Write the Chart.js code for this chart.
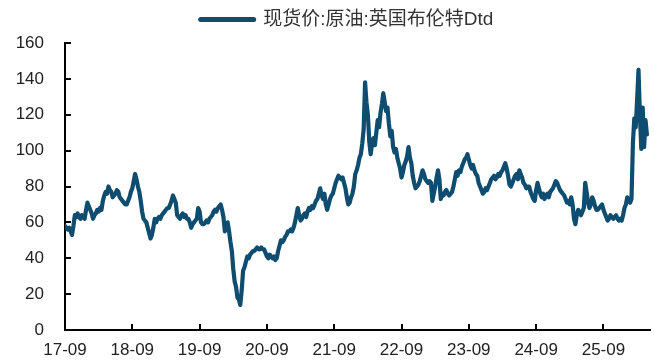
<!DOCTYPE html>
<html>
<head>
<meta charset="utf-8">
<script src="https://cdn.jsdelivr.net/npm/chart.js@4.4.1/dist/chart.umd.min.js"></script>
<style>
  html, body { margin: 0; padding: 0; background: #fff; }
  #wrap { width: 654px; height: 362px; }
</style>
</head>
<body>
<div id="wrap"><canvas id="c" width="654" height="362"></canvas></div>
<script>
// Dated Brent spot price, USD/bbl, four readings per month starting Sep 2017
const brent2017 = [58,57,56,57, 55,53,58,64, 63,65,63,62, 64,63,62,67];
const brent2018 = [71,69,67,65, 62,64,65,67, 66,68,67,72, 75,77,76,80,
                   78,77,74,75, 76,78,77,74, 73,72,71,70, 70,72,74,77,
                   79,83,87,84, 80,77,72,66, 62,61,60,57, 54,51,53,57];
const brent2019 = [62,60,62,63, 62,64,65,66, 67,68,68,70, 72,75,73,71,
                   64,63,62,64, 65,63,64,62, 62,60,57,59, 60,61,62,68,
                   66,60,59,59, 60,61,60,62, 63,64,66,67, 66,68,69,70];
const brent2020 = [67,63,55,57, 60,55,49,44, 34,27,24,18, 17,14,22,33,
                   35,38,41,40, 42,43,44,44, 45,46,45,45, 46,45,45,43,
                   41,40,42,41, 40,41,39,40, 44,47,50,49, 50,52,53,55];
const brent2021 = [55,56,55,57, 60,64,68,64, 61,62,64,65, 63,66,68,67,
                   69,68,70,72, 73,76,79,75, 73,76,70,67, 70,73,75,76,
                   79,82,84,86, 85,84,85,82, 79,74,70,71, 74,76,80,87];
const brent2022 = [89,92,96,98, 104,112,138,127, 120,105,98,104, 107,103,110,117,
                   113,121,126,132, 127,122,124,115, 108,111,102,99, 101,96,93,90,
                   85,88,92,94, 97,102,96,93, 86,82,79,80, 81,83,86,89];
const brent2023 = [87,84,83,82, 83,82,72,76, 80,85,89,84, 73,76,75,77,
                   78,76,75,76, 77,80,84,88, 86,89,88,91, 93,95,96,98,
                   95,92,90,92, 89,87,86,82, 80,78,76,77, 79,78,80,82];
const brent2024 = [84,85,86,84, 85,87,86,88, 89,91,93,90, 86,81,80,82,
                   84,86,87,84, 89,87,85,82, 81,79,80,80, 77,75,73,72,
                   78,82,79,76, 74,76,73,75, 76,74,77,78, 79,81,83,82];
const brent2025 = [80,78,77,76, 75,73,71,72, 70,74,70,62, 59,64,67,65,
                   64,66,68,82, 77,71,68,70, 74,72,69,67, 67,68,69,70,
                   67,65,63,61, 62,64,63,62, 63,64,62,61, 62,61,64,68];
const brent2026 = [70,74,72,71, 73,104,118,113, 128,145,120,101, 124,102,117,109];

const readingsPerMonth = 4;
const tickLabels = ['17-09','18-09','19-09','20-09','21-09','22-09','23-09','24-09','25-09'];
const seriesName = '现货价:原油:英国布伦特Dtd';

const prices = [].concat(brent2017, brent2018, brent2019, brent2020, brent2021,
                         brent2022, brent2023, brent2024, brent2025, brent2026);
// x = months elapsed since Sep 2017
const points = prices.map((v, i) => ({ x: i / readingsPerMonth, y: v }));

const lineColor = '#0f4d70';
const textColor = '#222';
const tickFont = { family: '"Liberation Sans", Arial, sans-serif', size: 17 };

// small tick marks pointing into the plot area
const innerTicks = {
  id: 'innerTicks',
  afterDraw(chart) {
    const { ctx, chartArea, scales } = chart;
    ctx.save();
    ctx.strokeStyle = '#000';
    ctx.lineWidth = 2;
    ctx.beginPath();
    scales.y.ticks.forEach(t => {
      if (t.value === 0) return;
      const y = Math.round(scales.y.getPixelForValue(t.value));
      ctx.moveTo(chartArea.left, y);
      ctx.lineTo(chartArea.left + 6, y);
    });
    scales.x.ticks.forEach(t => {
      if (t.value === 0) return;
      const x = Math.round(scales.x.getPixelForValue(t.value));
      ctx.moveTo(x, chartArea.bottom);
      ctx.lineTo(x, chartArea.bottom - 6);
    });
    ctx.stroke();
    ctx.restore();
  }
};

// centre the legend row over the plot rather than over the whole canvas
const legendOffset = {
  id: 'legendOffset',
  afterLayout(chart) {
    const lg = chart.legend;
    if (!lg) return;
    const shift = 22;
    lg.left += shift;
    lg.right += shift;
  }
};

new Chart(document.getElementById('c'), {
  type: 'line',
  data: {
    datasets: [{
      label: seriesName,
      data: points,
      borderColor: lineColor,
      backgroundColor: lineColor,
      borderWidth: 4.2,
      borderJoinStyle: 'round',
      borderCapStyle: 'round',
      pointRadius: 0,
      tension: 0,
      fill: false
    }]
  },
  options: {
    responsive: false,
    animation: false,
    events: [],
    layout: { padding: { left: 0, right: 4, top: 4, bottom: 0 } },
    plugins: {
      legend: {
        position: 'top',
        align: 'center',
        labels: {
          usePointStyle: true,
          pointStyleWidth: 53,
          padding: 6,
          color: '#333',
          font: { family: '"Liberation Sans", "Noto Sans CJK SC", sans-serif', size: 19 },
          generateLabels: () => [{
            text: seriesName,
            fillStyle: lineColor,
            strokeStyle: lineColor,
            lineWidth: 5,
            lineCap: 'round',
            pointStyle: 'line',
            datasetIndex: 0,
            fontColor: '#333'
          }]
        }
      },
      // empty spacer between the legend row and the plot
      title: {
        display: true,
        text: '',
        position: 'top',
        weight: 500,
        padding: 0,
        font: { size: 4, lineHeight: 1 }
      },
      tooltip: { enabled: false }
    },
    scales: {
      x: {
        type: 'linear',
        min: 0,
        max: 104.3,
        afterFit: (s) => { s.height = 32; },
        grid: { display: false, drawTicks: false },
        border: { display: true, color: '#000', width: 2 },
        ticks: {
          stepSize: 12,
          includeBounds: false,
          autoSkip: false,
          maxRotation: 0,
          padding: 10,
          color: textColor,
          font: tickFont,
          callback: (v) => tickLabels[v / 12]
        }
      },
      y: {
        min: 0,
        max: 160,
        afterFit: (s) => { s.width = 65; },
        grid: { display: false, drawTicks: false },
        border: { display: true, color: '#000', width: 2 },
        ticks: {
          stepSize: 20,
          padding: 21,
          color: textColor,
          font: tickFont
        }
      }
    }
  },
  plugins: [innerTicks, legendOffset]
});
</script>
</body>
</html>
